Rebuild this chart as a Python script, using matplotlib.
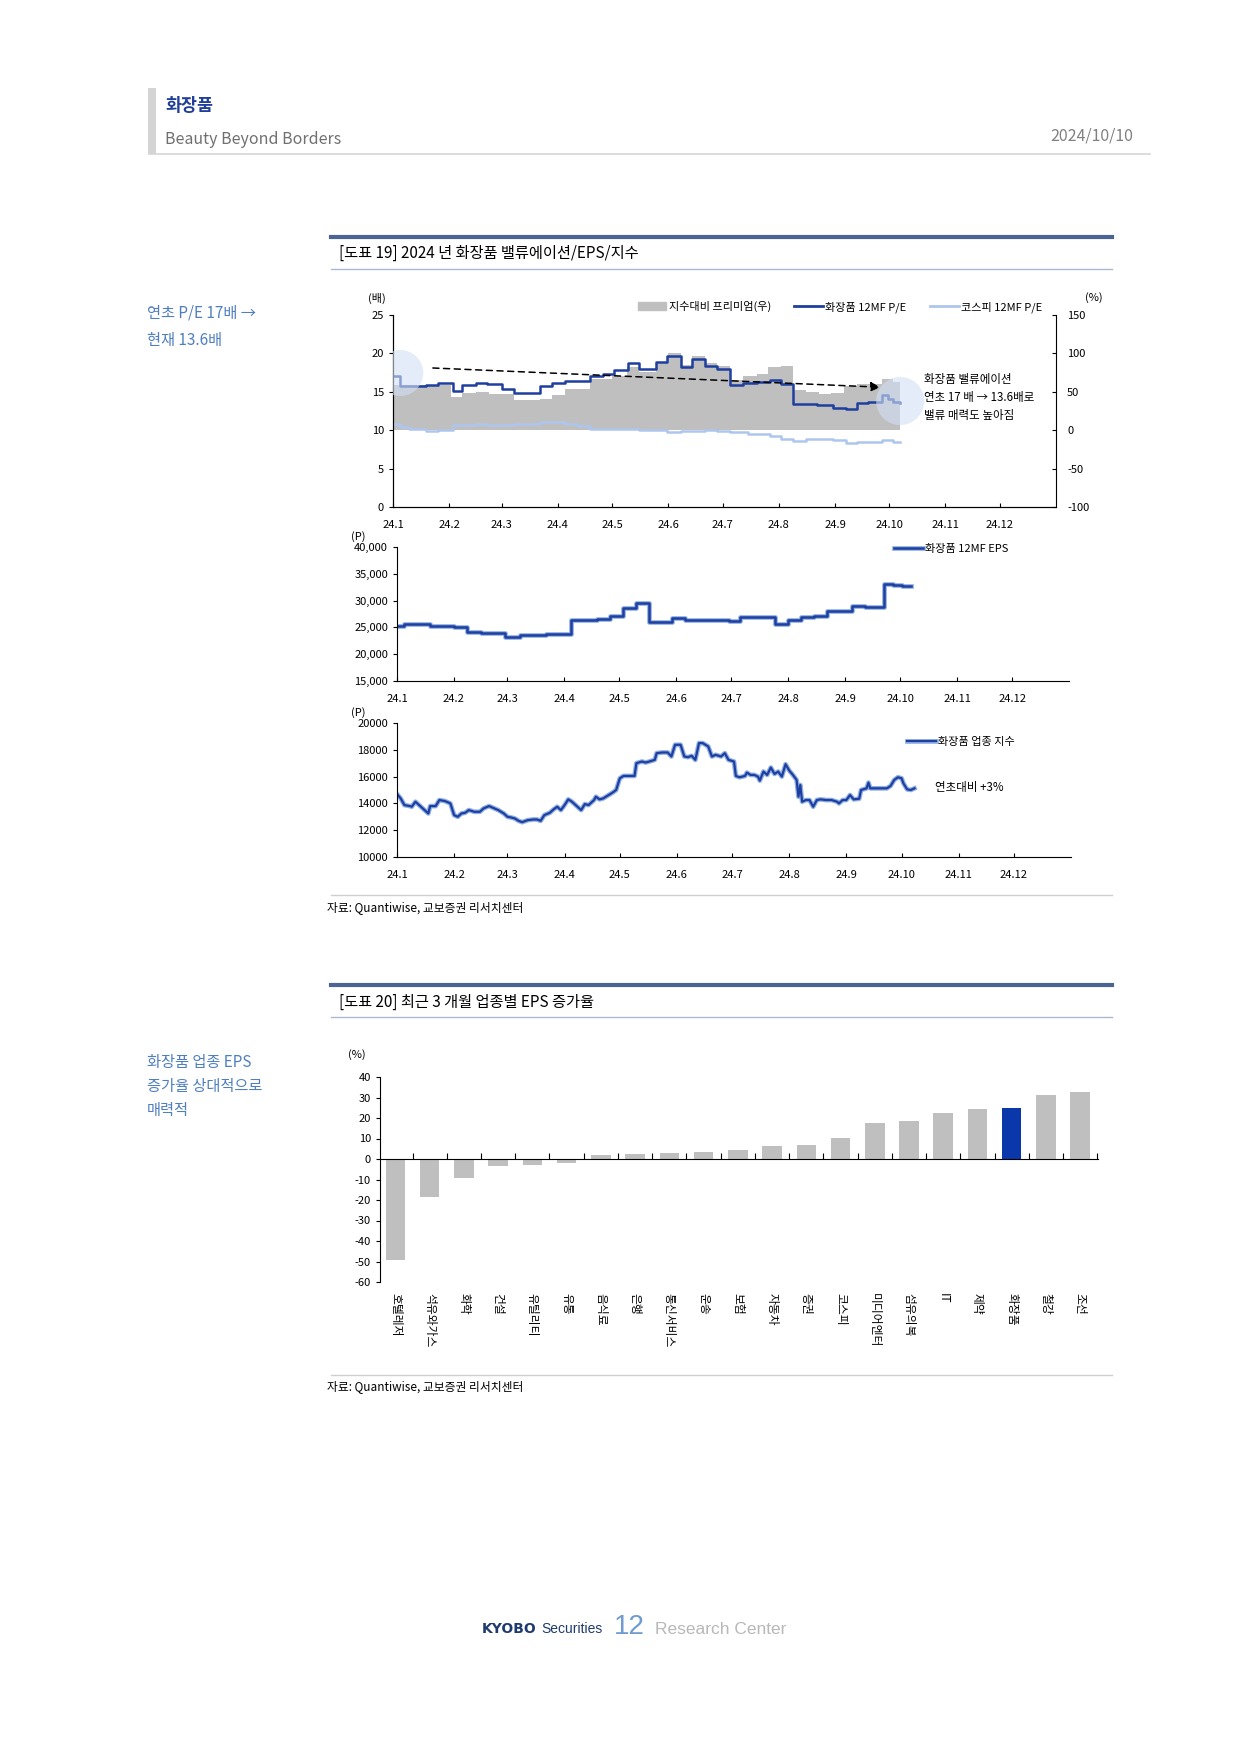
import numpy as np
import pandas as pd
import matplotlib
matplotlib.use('Agg')
from matplotlib import pyplot as plt
import matplotlib.patheffects as pe
import matplotlib.transforms as mtransforms
from matplotlib.patches import Patch
from matplotlib.lines import Line2D
from matplotlib.ticker import FuncFormatter

plt.rcParams['font.family'] = ['Noto Sans CJK KR', 'DejaVu Sans']
plt.rcParams['axes.unicode_minus'] = False

W, H = 1241, 1755
START = pd.Timestamp('2024-01-01')
END = pd.Timestamp('2025-01-01')

MONTHS = pd.date_range('2024-01-01', periods=12, freq='MS')
MONTH_LABELS = ['24.%d' % m for m in range(1, 13)]

# [도표 19] top panel - days counted from 2024-01-01
PE_COS_DAYS = [0, 4, 9, 18, 25, 33, 38, 46, 52, 60, 67, 81, 88, 95, 109, 116, 122, 130, 136, 145,
               151, 159, 165, 172, 179, 186, 193, 201, 208, 214, 221, 234, 243, 250, 256, 262, 270, 273, 276, 280]
PE_COS = [17.1, 15.8, 15.7, 15.95, 16.1, 15.15, 15.9, 16.2, 16.0, 15.4, 14.9, 15.8, 16.2, 16.45, 17.1, 17.3,
          17.8, 18.7, 18.0, 18.9, 19.6, 18.2, 19.3, 18.3, 18.0, 15.95, 16.1, 16.3, 16.55, 16.0, 13.4, 13.3,
          12.95, 12.8, 13.6, 13.7, 14.6, 14.1, 13.7, 13.6]

PE_KOSPI_DAYS = [0, 4, 9, 18, 25, 33, 46, 52, 67, 81, 95, 102, 109, 122, 136, 151, 159, 172, 179, 186,
                 196, 208, 214, 221, 228, 243, 250, 256, 270, 276, 280]
PE_KOSPI = [10.85, 10.4, 10.1, 9.9, 10.05, 10.65, 10.85, 10.7, 10.85, 11.1, 10.8, 10.5, 10.2, 10.1, 10.0,
            9.8, 9.9, 10.0, 9.95, 9.8, 9.5, 9.2, 8.9, 8.6, 8.9, 8.7, 8.3, 8.45, 8.7, 8.4, 8.45]

PREM_DAYS = [0, 32, 38, 46, 53, 67, 81, 88, 95, 109, 121, 129, 136, 145, 152, 159, 165, 172, 179, 186,
             193, 201, 207, 214, 221, 228, 235, 242, 249, 256, 270, 276, 280]
PREMIUM = [59, 43, 48, 50, 47, 39, 41, 46, 54, 67, 70, 82, 76, 87, 100, 85, 96, 87, 83, 66,
           70, 73, 82, 83, 52, 50, 47, 49, 57, 60, 67, 63, 63]

# middle panel
EPS_DAYS = [0, 4, 10, 18, 31, 38, 46, 59, 67, 81, 95, 109, 116, 123, 130, 137, 150, 157, 181, 187,
            206, 213, 220, 227, 234, 248, 255, 265, 270, 275, 280]
EPS = [25200, 25700, 25550, 25350, 25000, 24050, 23900, 23200, 23550, 23750, 26350, 26500, 27100, 28700,
       29600, 26050, 26800, 26350, 26250, 27000, 25600, 26350, 27000, 27100, 28000, 28950, 28850, 33050,
       32850, 32700, 32700]

# bottom panel
IDX_DAYS = [0, 2, 4, 7, 8, 10, 12, 15, 17, 18, 21, 23, 26, 29, 31, 33, 35, 37, 39, 42,
            45, 47, 50, 53, 55, 58, 60, 62, 64, 66, 68, 71, 74, 76, 78, 80, 83, 85, 87, 89,
            91, 93, 95, 97, 100, 102, 104, 107, 108, 110, 112, 115, 117, 119, 121, 123, 126, 129, 130, 133,
            135, 137, 140, 141, 144, 147, 149, 151, 154, 156, 158, 160, 162, 164, 166, 169, 171, 173, 176, 178,
            180, 183, 184, 186, 189, 190, 192, 194, 196, 197, 199, 201, 203, 205, 207, 209, 211, 213, 215, 217,
            218, 219, 220, 222, 224, 226, 228, 230, 233, 236, 239, 240, 242, 244, 246, 248, 251, 252, 255, 256,
            257, 261, 263, 266, 268, 270, 272, 274, 275, 277, 279, 281]
IDX = [14700, 14375, 13875, 13800, 13750, 14125, 13875, 13500, 13250, 13800, 13800, 14250, 14175, 14000, 13125,
       13000, 13250, 13300, 13500, 13375, 13375, 13625, 13800, 13625, 13500, 13250, 13000, 12950, 12875, 12700,
       12600, 12750, 12800, 12800, 12700, 13125, 13300, 13550, 13750, 13500, 13875, 14300, 14125, 13875, 13500,
       13950, 13875, 14250, 14500, 14300, 14375, 14625, 14800, 15000, 15875, 16050, 16050, 16050, 17000, 17125,
       17050, 17125, 17250, 17750, 17800, 17800, 17500, 18375, 18375, 17500, 17450, 17550, 17250, 18500, 18500,
       18250, 17500, 17625, 17500, 17750, 17250, 17125, 16050, 15950, 16050, 16300, 16125, 16125, 16000, 15700,
       16375, 16125, 16675, 16200, 16375, 16000, 16925, 16450, 16125, 15750, 14500, 15375, 14125, 14250, 14250,
       13750, 14250, 14300, 14250, 14250, 14125, 14000, 14250, 14250, 14625, 14300, 14350, 15000, 15125, 15550,
       15125, 15125, 15125, 15125, 15300, 15750, 15950, 15875, 15500, 15050, 15000, 15125]

# [도표 20]
SECTORS = ['호텔레저', '석유와가스', '화학', '건설', '유틸리티', '유통', '음식료', '은행', '통신서비스', '운송',
           '보험', '자동차', '증권', '코스피', '미디어엔터', '섬유의복', 'IT', '제약', '화장품', '철강', '조선']
EPS_GROWTH = [-49.5, -18.5, -9.5, -3.5, -2.8, -1.8, 2.0, 2.5, 2.7, 3.3, 4.2, 6.5, 6.6, 10.2, 17.8, 18.4,
              22.2, 24.6, 25.0, 31.3, 32.6]
HIGHLIGHT = '화장품'

DARK = '#1f3f9f'
LIGHT = '#aec6ee'
GREY = '#bfbfbf'
SIDE = '#4f7fc0'


def to_dates(days):
    return START + pd.to_timedelta(days, unit='D')


def box(x0, y0, x1, y1):
    return [x0 / W, 1 - y1 / H, (x1 - x0) / W, (y1 - y0) / H]


def fx(x):
    return x / W


def fy(y):
    return 1 - y / H


def hline(fig, y, x0, x1, color, lw):
    fig.add_artist(Line2D([fx(x0), fx(x1)], [fy(y), fy(y)], transform=fig.transFigure, color=color, lw=lw))


def month_axis(ax):
    ax.set_xlim(START, END)
    ax.set_xticks(MONTHS)
    ax.set_xticklabels(MONTH_LABELS)
    ax.tick_params(axis='x', direction='in', length=3, labelsize=8, pad=9)
    ax.tick_params(axis='y', direction='out', length=3, labelsize=8)
    ax.spines['top'].set_visible(False)


fig = plt.figure(figsize=(W / 100, H / 100), dpi=100)

# header
fig.add_artist(plt.Rectangle((fx(148), fy(154)), 8 / W, 66 / H, transform=fig.transFigure,
                             color='#d4d4d4', lw=0))
fig.text(fx(165), fy(106), '화장품', fontsize=12.5, fontweight='bold', color='#1f3f99', va='center')
fig.text(fx(165), fy(140), 'Beauty Beyond Borders', fontsize=11.5, color='#707070', va='center')
fig.text(fx(1133), fy(136), '2024/10/10', fontsize=11.5, color='#808080', va='center', ha='right')
hline(fig, 154, 149, 1150, '#d6d6d6', 1.2)

# chart 19 title
hline(fig, 237, 331, 1112, '#4a6494', 3)
fig.text(fx(339), fy(253), '[도표 19] 2024 년 화장품 밸류에이션/EPS/지수', fontsize=11, va='center')
hline(fig, 269, 331, 1112, '#a9b9d0', 1)
fig.text(fx(147), fy(313), '연초 P/E 17배 →', fontsize=11, color=SIDE, va='center')
fig.text(fx(147), fy(341), '현재 13.6배', fontsize=11, color=SIDE, va='center')

# top panel: P/E and premium
ax = fig.add_axes(box(393, 315, 1056, 507))
ax2 = ax.twinx()
ax2.fill_between(to_dates(PREM_DAYS), 0, PREMIUM, step='post', color=GREY, lw=0)
ax2.set_ylim(-100, 150)
ax2.set_yticks(range(-100, 151, 50))
ax2.tick_params(axis='y', direction='in', length=3, labelsize=8, pad=8)
ax2.spines['top'].set_visible(False)
ax.set_zorder(ax2.get_zorder() + 1)
ax.patch.set_visible(False)

ax.plot(to_dates(PE_KOSPI_DAYS), PE_KOSPI, drawstyle='steps-post', color=LIGHT, lw=1.8)
ax.plot(to_dates(PE_COS_DAYS), PE_COS, drawstyle='steps-post', color=DARK, lw=1.8)
ax.set_ylim(0, 25)
ax.set_yticks(range(0, 26, 5))
month_axis(ax)
ax.spines['right'].set_visible(False)

# trend arrow and highlight circles
ax.annotate('', xy=(to_dates([269])[0], 15.6), xytext=(to_dates([22])[0], 18.1),
            arrowprops=dict(arrowstyle='-|>', color='black', lw=1.1, linestyle=(0, (4, 3)),
                            mutation_scale=14, shrinkA=0, shrinkB=0))
ax.scatter(to_dates([4, 280]), [17.45, 13.8], s=[1100, 1200], color='#d3e0f5', alpha=0.6,
           edgecolors='none', zorder=5)

fig.text(fx(377), fy(298), '(배)', fontsize=8, ha='center', va='center')
fig.text(fx(1094), fy(298), '(%)', fontsize=8, ha='center', va='center')
fig.text(fx(924), fy(380), '화장품 밸류에이션', fontsize=8.3, va='center')
fig.text(fx(924), fy(398), '연초 17 배 → 13.6배로', fontsize=8.3, va='center')
fig.text(fx(924), fy(416), '밸류 매력도 높아짐', fontsize=8.3, va='center')

handles = [Patch(color=GREY), Line2D([], [], color=DARK, lw=2), Line2D([], [], color=LIGHT, lw=2)]
fig.legend(handles, ['지수대비 프리미엄(우)', '화장품 12MF P/E', '코스피 12MF P/E'], ncol=3,
           loc='center right', bbox_to_anchor=(fx(1042), fy(307)), frameon=False, fontsize=8,
           handlelength=2.6, handletextpad=0.2, columnspacing=2.1, borderpad=0, borderaxespad=0)

halo = [pe.Stroke(linewidth=3.4, foreground='#8fb0e6'), pe.Normal()]

# middle panel: EPS
ax = fig.add_axes(box(397, 547, 1069, 681))
ax.plot(to_dates(EPS_DAYS), EPS, drawstyle='steps-post', color=DARK, lw=1.8, path_effects=halo,
        label='화장품 12MF EPS')
ax.set_ylim(15000, 40000)
ax.set_yticks(range(15000, 40001, 5000))
ax.yaxis.set_major_formatter(FuncFormatter(lambda v, p: '{:,.0f}'.format(v)))
month_axis(ax)
ax.spines['right'].set_visible(False)
ax.legend(loc='center left', bbox_to_anchor=(fx(894), fy(549)), bbox_transform=fig.transFigure,
          frameon=False, fontsize=8, handlelength=2.6, handletextpad=0.2, borderpad=0, borderaxespad=0)
fig.text(fx(358), fy(537), '(P)', fontsize=8, ha='center', va='center')

# bottom panel: sector index
ax = fig.add_axes(box(397, 723, 1071, 857))
ax.plot(to_dates(IDX_DAYS), IDX, color=DARK, lw=1.6, path_effects=halo, label='화장품 업종 지수')
ax.set_ylim(10000, 20000)
ax.set_yticks(range(10000, 20001, 2000))
month_axis(ax)
ax.spines['right'].set_visible(False)
ax.legend(loc='center left', bbox_to_anchor=(fx(907), fy(742)), bbox_transform=fig.transFigure,
          frameon=False, fontsize=8, handlelength=2.6, handletextpad=0.2, borderpad=0, borderaxespad=0)
fig.text(fx(358), fy(713), '(P)', fontsize=8, ha='center', va='center')
fig.text(fx(935), fy(787), '연초대비 +3%', fontsize=8.3, va='center')

hline(fig, 895, 331, 1112, '#cfcfcf', 1)
fig.text(fx(327), fy(908), '자료: Quantiwise, 교보증권 리서치센터', fontsize=8.5, va='center')

# chart 20 title
hline(fig, 985, 331, 1112, '#4a6494', 3)
fig.text(fx(339), fy(1002), '[도표 20] 최근 3 개월 업종별 EPS 증가율', fontsize=11, va='center')
hline(fig, 1017, 331, 1112, '#a9b9d0', 1)
fig.text(fx(147), fy(1062), '화장품 업종 EPS', fontsize=11, color=SIDE, va='center')
fig.text(fx(147), fy(1086), '증가율 상대적으로', fontsize=11, color=SIDE, va='center')
fig.text(fx(147), fy(1110), '매력적', fontsize=11, color=SIDE, va='center')

ax = fig.add_axes(box(380, 1077, 1098, 1282))
colors = ['#0a37aa' if s == HIGHLIGHT else GREY for s in SECTORS]
x = np.arange(len(SECTORS))
ax.bar(x, EPS_GROWTH, width=0.57, color=colors)
ax.set_xlim(-0.45, len(SECTORS) - 0.48)
ax.set_ylim(-60, 40)
ax.set_yticks(range(-60, 41, 10))
ax.spines['top'].set_visible(False)
ax.spines['right'].set_visible(False)
ax.spines['bottom'].set_position(('data', 0))
ax.set_xticks(x + 0.5)
ax.set_xticklabels([''] * len(SECTORS))
ax.tick_params(axis='x', direction='in', length=4)
ax.tick_params(axis='y', direction='out', length=3, labelsize=8)
trans = mtransforms.blended_transform_factory(ax.transData, ax.transAxes)
for i, name in enumerate(SECTORS):
    ax.text(i, -0.055, name, transform=trans, rotation=270, ha='center', va='top', fontsize=8.5)
fig.text(fx(357), fy(1055), '(%)', fontsize=8, ha='center', va='center')

hline(fig, 1375, 331, 1112, '#cfcfcf', 1)
fig.text(fx(327), fy(1387), '자료: Quantiwise, 교보증권 리서치센터', fontsize=8.5, va='center')

# footer
fig.text(fx(482), fy(1629), 'KYOBO', fontsize=10, fontweight='bold', color='#1f3a6e', va='center',
         family=['DejaVu Sans'])
fig.text(fx(603), fy(1629), 'Securities', fontsize=10, color='#1f3a6e', va='center', ha='right',
         family=['Liberation Sans'])
fig.text(fx(614), fy(1627), '12', fontsize=20, color='#6f9bd1', va='center', family=['Liberation Sans'])
fig.text(fx(655), fy(1629), 'Research Center', fontsize=12.5, color='#b8b8b8', va='center',
         family=['Liberation Sans'])

fig.savefig('out.png', dpi=100)
